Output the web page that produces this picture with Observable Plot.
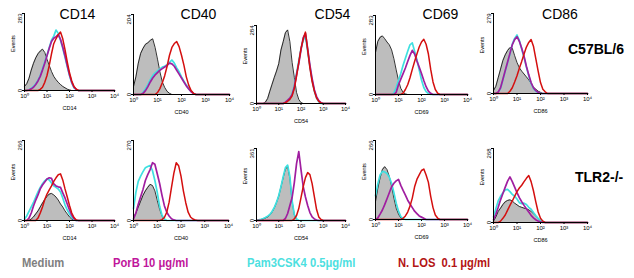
<!DOCTYPE html>
<html>
<head>
<meta charset="utf-8">
<script src="https://cdn.jsdelivr.net/npm/d3@7"></script>
<script src="https://cdn.jsdelivr.net/npm/@observablehq/plot@0.6"></script>
<style>
  html, body { margin: 0; padding: 0; background: #fff; }
  #fig { position: relative; width: 634px; height: 278px; overflow: hidden; background: #fff;
         font-family: "Liberation Sans", Arial, sans-serif; }
  .abs { position: absolute; white-space: pre; }
  .title { font-size: 14px; line-height: 16px; transform: translateX(-50%); color: #000; }
  .strain { font-size: 14px; line-height: 16px; font-weight: bold; color: #000; }
  .leg { font-size: 13.5px; line-height: 16px; font-weight: bold; transform: scaleX(0.83); transform-origin: 0 0; }
</style>
</head>
<body>
<div id="fig"></div>
<script>
// Histogram channels: 10 per decade, from 10^0 to 10^4 (values = event counts)
const markers = ["CD14", "CD40", "CD54", "CD69", "CD86"];
const strains = ["C57BL/6", "TLR2-/-"];
const treatments = ["Medium", "PorB 10 \u03bcg/ml", "Pam3CSK4 0.5\u03bcg/ml", "N. LOS  0.1 \u03bcg/ml"];
const tickValues = [1, 10, 100, 1000, 10000];
const tickLabels = ["10\u2070", "10\u00b9", "10\u00b2", "10\u00b3", "10\u2074"];

// Y-axis maxima (events)
const maxB6 = [283, 204, 284, 283, 279];
const maxTlr2 = [266, 270, 361, 266, 268];

// C57BL/6
const b6_cd14_medium = [15,25,45,75,100,120,135,145,152,140,115,92,70,52,40,30,22,15,10,5,2,0];
const b6_cd14_pam    = [0,0,3,8,15,25,38,55,80,105,130,158,185,200,222,210,185,155,122,88,55,28,10,3,0];
const b6_cd14_porb   = [0,0,2,6,12,22,35,52,75,100,128,155,180,192,198,205,188,160,128,92,58,30,12,4,0];
const b6_cd14_los    = [0,0,0,0,0,0,0,4,12,30,55,92,135,172,190,205,215,190,150,105,65,35,15,5,0];

const b6_cd40_medium = [20,45,80,105,118,128,132,138,142,120,90,58,32,18,8,3,0];
const b6_cd40_pam    = [0,0,0,0,5,15,25,38,48,55,60,65,70,72,76,82,88,80,68,58,45,34,24,15,8,3,0];
const b6_cd40_porb   = [0,0,0,0,3,10,20,32,42,50,56,62,66,70,74,80,78,72,62,52,42,32,22,14,7,2,0];
const b6_cd40_los    = [0,0,0,0,0,0,0,0,0,0,5,15,30,48,72,100,120,130,135,122,100,75,45,24,10,3,0];

const b6_cd54_medium = [0,0,0,0,5,18,45,70,95,118,145,195,225,258,268,225,150,95,40,15,3,0];
const b6_cd54_pam    = [0,0,0,0,0,0,0,0,0,0,0,0,0,5,10,18,35,65,110,155,200,230,245,190,135,85,45,20,6,0];
const b6_cd54_porb   = [0,0,0,0,0,0,0,0,0,0,0,0,0,5,12,20,32,60,105,145,195,240,255,200,140,90,50,25,10,3,0];
const b6_cd54_los    = [0,0,0,0,0,0,0,0,0,0,0,0,0,3,8,15,28,55,100,150,200,235,260,195,130,80,45,20,8,2,0];

const b6_cd69_medium = [150,190,205,210,200,188,178,160,128,88,50,22,8,2,0];
const b6_cd69_pam    = [0,0,0,0,0,0,0,0,5,25,50,75,105,130,155,178,185,155,125,88,52,25,10,3,0];
const b6_cd69_porb   = [0,0,0,0,0,0,0,0,0,8,35,55,75,95,118,140,158,145,120,98,75,50,28,12,4,0];
const b6_cd69_los    = [0,0,0,0,0,0,0,0,0,0,0,0,5,18,35,60,90,118,145,170,188,198,180,145,90,45,18,5,0];

const b6_cd86_medium = [10,25,55,85,115,135,150,160,158,132,108,90,78,68,58,48,35,22,15,8,4,0];
const b6_cd86_pam    = [0,0,4,18,48,78,108,138,172,192,204,185,155,125,92,62,35,18,8,3,0];
const b6_cd86_porb   = [0,0,5,20,50,80,110,140,170,188,198,182,158,130,95,65,38,20,10,4,0];
const b6_cd86_los    = [0,0,0,0,0,0,0,8,20,40,62,88,112,138,162,178,188,165,122,78,38,15,6,0];

// TLR2-/-
const tlr2_cd14_medium = [0,0,0,5,12,22,32,45,58,70,80,88,90,85,78,68,55,45,32,22,12,5,0];
const tlr2_cd14_pam    = [5,15,30,45,60,78,95,110,122,132,138,135,125,115,110,105,95,75,52,35,22,10,3,0];
const tlr2_cd14_porb   = [0,0,8,25,48,68,85,105,118,128,138,142,140,122,115,112,110,92,75,55,35,18,6,0];
const tlr2_cd14_los    = [0,0,0,0,0,0,8,25,45,70,88,102,115,130,142,152,155,135,105,78,50,25,10,2,0];

const tlr2_cd40_medium = [10,25,45,65,85,100,112,122,118,100,68,38,15,4,0];
const tlr2_cd40_pam    = [40,95,132,150,165,178,182,186,168,135,95,48,18,5,0];
const tlr2_cd40_porb   = [5,25,55,80,105,135,155,172,195,190,158,125,85,50,28,15,6,2,0];
const tlr2_cd40_los    = [0,0,0,0,0,0,0,0,0,0,0,0,3,10,28,62,112,160,195,185,150,100,60,28,12,5,2,0];

const tlr2_cd54_medium = [0,2,4,7,12,18,28,42,62,90,122,168,215,258,270,210,95,28,6,0];
const tlr2_cd54_pam    = [0,3,6,10,15,22,30,45,65,92,125,170,220,265,278,220,100,30,8,0];
const tlr2_cd54_porb   = [0,0,0,0,0,0,0,0,0,0,0,0,0,10,35,75,115,190,285,345,255,170,118,75,40,18,8,2,0];
const tlr2_cd54_los    = [0,0,0,0,0,0,0,0,0,0,0,0,0,0,0,0,0,8,25,60,115,170,215,240,230,185,120,55,18,5,0];

const tlr2_cd69_medium = [60,105,140,168,178,168,145,112,72,38,18,5,0];
const tlr2_cd69_pam    = [80,120,150,162,160,155,142,122,90,55,28,10,3,0];
const tlr2_cd69_porb   = [0,5,18,32,50,70,90,110,122,130,135,115,98,82,65,52,40,28,20,12,8,4,0];
const tlr2_cd69_los    = [0,0,0,0,0,0,0,0,0,0,0,0,4,12,25,45,72,110,135,150,165,170,150,125,78,40,15,5,0];

const tlr2_cd86_medium = [5,20,40,52,65,75,80,82,78,70,64,58,55,52,50,46,40,32,24,14,7,2,0];
const tlr2_cd86_pam    = [20,50,78,95,108,118,120,112,102,95,85,72,68,70,65,55,48,36,25,15,8,3,0];
const tlr2_cd86_porb   = [10,30,55,82,105,128,150,165,148,128,108,90,75,62,50,38,26,17,10,5,2,0];
const tlr2_cd86_los    = [0,0,0,5,15,27,45,62,78,95,112,125,135,148,160,170,148,115,75,38,15,5,0];

const seriesB6 = [
  [b6_cd14_medium, b6_cd14_pam, b6_cd14_porb, b6_cd14_los],
  [b6_cd40_medium, b6_cd40_pam, b6_cd40_porb, b6_cd40_los],
  [b6_cd54_medium, b6_cd54_pam, b6_cd54_porb, b6_cd54_los],
  [b6_cd69_medium, b6_cd69_pam, b6_cd69_porb, b6_cd69_los],
  [b6_cd86_medium, b6_cd86_pam, b6_cd86_porb, b6_cd86_los]
];
const seriesTlr2 = [
  [tlr2_cd14_medium, tlr2_cd14_pam, tlr2_cd14_porb, tlr2_cd14_los],
  [tlr2_cd40_medium, tlr2_cd40_pam, tlr2_cd40_porb, tlr2_cd40_los],
  [tlr2_cd54_medium, tlr2_cd54_pam, tlr2_cd54_porb, tlr2_cd54_los],
  [tlr2_cd69_medium, tlr2_cd69_pam, tlr2_cd69_porb, tlr2_cd69_los],
  [tlr2_cd86_medium, tlr2_cd86_pam, tlr2_cd86_porb, tlr2_cd86_los]
];

// ---------- layout (page pixels) ----------
const layoutB6 = [
  {ax: 24,  bx: 114, top: 13, base: 90,  events: true},
  {ax: 133, bx: 229, top: 14, base: 94,  events: false},
  {ax: 256, bx: 345, top: 25, base: 103, events: true},
  {ax: 375, bx: 467, top: 15, base: 94,  events: true},
  {ax: 493, bx: 587, top: 13, base: 93,  events: true}
];
const layoutTlr2 = [
  {ax: 24,  bx: 114, top: 140, base: 220, events: true},
  {ax: 133, bx: 228, top: 140, base: 220, events: false},
  {ax: 256, bx: 345, top: 148, base: 220, events: true},
  {ax: 375, bx: 467, top: 140, base: 219, events: true},
  {ax: 493, bx: 587, top: 148, base: 222, events: true}
];
const titleCenters = [77.5, 198.5, 332.5, 440.5, 560];

const colMedium = "#bdbdbd", colPam = "#3fe0e0", colPorb = "#a01ea0", colLos = "#d40f0f";
const channels = d3.range(41).map(i => Math.pow(10, i / 10));

const fig = document.getElementById("fig");

function rows(arr) {
  return channels.map((x, i) => ({x, y: i < arr.length ? arr[i] : 0}));
}

function panel(marker, max, series, L) {
  const mL = 26, mR = 8, mT = 10, mB = 30;
  const w = (L.bx - L.ax) + mL + mR;
  const h = (L.base - L.top) + mT + mB;
  const [med, pam, porb, los] = series.map(rows);
  const marks = [
    Plot.areaY(med, {x: "x", y: "y", fill: colMedium}),
    Plot.lineY(med, {x: "x", y: "y", stroke: "#000", strokeWidth: 0.8}),
    Plot.lineY(pam, {x: "x", y: "y", stroke: colPam, strokeWidth: 1.7}),
    Plot.lineY(porb, {x: "x", y: "y", stroke: colPorb, strokeWidth: 1.7}),
    Plot.lineY(los, {x: "x", y: "y", stroke: colLos, strokeWidth: 1.5}),
    Plot.ruleX([1], {stroke: "#000", strokeWidth: 1}),
    Plot.ruleY([0], {stroke: "#000", strokeWidth: 1}),
    Plot.axisX({ticks: tickValues, tickFormat: d => tickLabels[tickValues.indexOf(d)], tickSize: 2, tickPadding: 1, fontSize: 6, label: null}),
    Plot.axisY({ticks: [0], tickSize: 2, tickPadding: 1, tickRotate: -90, fontSize: 6, label: null}),
    Plot.axisY({ticks: [max], tickSize: 2, tickPadding: 1, tickRotate: -90, textAnchor: "end", fontSize: 6, label: null}),
    Plot.text([marker], {text: d => d, frameAnchor: "bottom", dy: 19, fontSize: 5.5})
  ];
  if (L.events) marks.push(Plot.text(["Events"], {text: d => d, frameAnchor: "left", dx: -11, rotate: -90, fontSize: 5.5}));
  const svg = Plot.plot({
    width: w, height: h, marginLeft: mL, marginRight: mR, marginTop: mT, marginBottom: mB,
    x: {type: "log", domain: [1, 10000], axis: null},
    y: {domain: [0, max], axis: null},
    style: {fontFamily: "'Liberation Sans', Arial, sans-serif", fontSize: "6px", background: "transparent", overflow: "visible"},
    marks
  });
  svg.style.position = "absolute";
  svg.style.left = (L.ax - mL) + "px";
  svg.style.top = (L.top - mT) + "px";
  fig.appendChild(svg);
}

markers.forEach((m, i) => {
  panel(m, maxB6[i], seriesB6[i], layoutB6[i]);
  panel(m, maxTlr2[i], seriesTlr2[i], layoutTlr2[i]);
});

function addText(text, cls, left, top, color) {
  const d = document.createElement("div");
  d.className = "abs " + cls;
  d.textContent = text;
  d.style.left = left + "px";
  d.style.top = top + "px";
  if (color) d.style.color = color;
  fig.appendChild(d);
}

markers.forEach((m, i) => addText(m, "title", titleCenters[i], 6));
addText(strains[0], "strain", 568, 41);
addText(strains[1], "strain", 575, 169);

const legendLeft = [22, 113, 247, 398];
const legendColors = ["#808080", "#c0169b", "#4de0e0", "#b31414"];
treatments.forEach((t, i) => addText(t, "leg", legendLeft[i], 255, legendColors[i]));
</script>
</body>
</html>
